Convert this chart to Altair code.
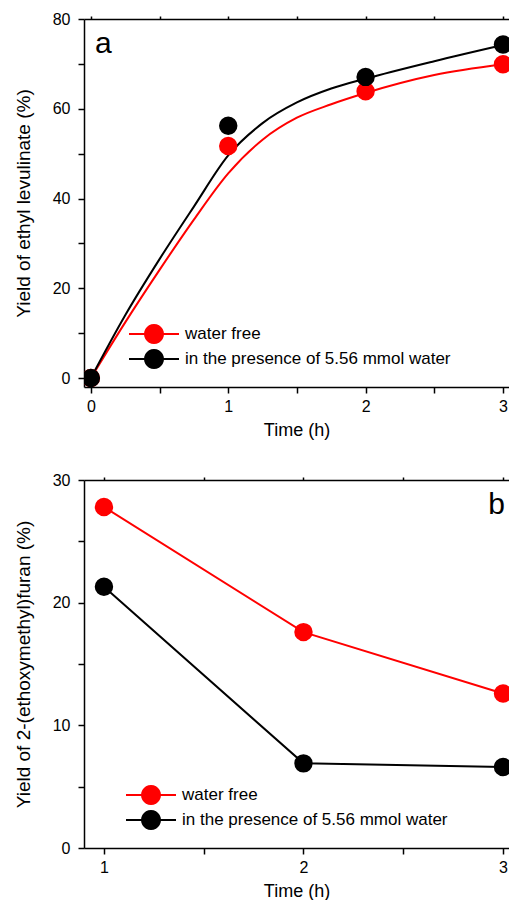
import math
import altair as alt
import pandas as pd

FONT = "Liberation Sans"
SERIES = ["water free", "in the presence of 5.56 mmol water"]
COLORS = ["#ff0000", "#000000"]

# ---- panel a: yield of ethyl levulinate (measured points) ----
a_time = [0, 1, 2, 3]
a_free = [0.0, 51.7, 63.9, 69.9]
a_water = [0.0, 56.2, 67.1, 74.3]

# ---- panel a: fitted curves ----
fit_time = [0.0, 0.25, 0.5, 0.75, 1.0, 1.25, 1.5, 1.75, 2.0, 2.5, 3.0]
fit_free = [0.0, 12.4, 24.1, 35.3, 45.6, 53.1, 58.0, 61.0, 63.5, 67.5, 69.9]
fit_water = [0.0, 14.0, 26.5, 38.2, 49.6, 56.8, 61.4, 64.5, 66.7, 70.6, 74.2]

# ---- panel b: yield of 2-(ethoxymethyl)furan ----
b_time = [1, 2, 3]
b_free = [27.8, 17.6, 12.6]
b_water = [21.3, 6.9, 6.6]

# ---- ticks ----
a_xticks = [0, 0.5, 1, 1.5, 2, 2.5, 3]
a_yticks = [0, 10, 20, 30, 40, 50, 60, 70, 80]
b_xticks = [1, 1.5, 2, 2.5, 3]
b_yticks = [0, 5, 10, 15, 20, 25, 30]


def long_frame(t, free, water):
    rows = []
    for x, v in zip(t, free):
        rows.append({"time": x, "value": v, "series": SERIES[0]})
    for x, v in zip(t, water):
        rows.append({"time": x, "value": v, "series": SERIES[1]})
    return pd.DataFrame(rows)


a_pts = long_frame(a_time, a_free, a_water)
a_fit = long_frame(fit_time, fit_free, fit_water)
b_pts = long_frame(b_time, b_free, b_water)

# legend glyph: a line segment with a dot in the middle (unit symbol path)
_poly = []
for k in range(24):
    ang = 2 * math.pi * k / 24
    _poly.append(f"{1.125 * math.cos(ang):.3f},{1.125 * math.sin(ang):.3f}")
SYMBOL = "M-3.125,0L3.125,0M" + "L".join(_poly) + "Z"


def make_legend(lx, ly):
    return alt.Legend(
        title=None, orient="none", legendX=lx, legendY=ly,
        symbolType=SYMBOL, symbolSize=256, symbolStrokeWidth=2,
        symbolOpacity=1, labelFont=FONT, labelFontSize=17,
        labelColor="black", labelLimit=600, labelOffset=22, rowPadding=-1,
    )


def panel(pts, lines, xdom, ydom, xticks, yticks, ymajor, ytitle,
          letter, letter_x, letter_align, leg, interp):
    xscale = alt.Scale(domain=xdom, nice=False, zero=False)
    yscale = alt.Scale(domain=ydom, nice=False, zero=False)
    common = dict(
        labelFontSize=16, labelFont=FONT, labelColor="black",
        titleFont=FONT, titleFontWeight="normal", titleColor="black",
        domainColor="black", domainWidth=1.5, tickColor="black", tickWidth=1.5,
        grid=False, labelOverlap=False,
    )
    x_axis = alt.Axis(
        values=xticks,
        labelExpr="datum.value % 1 == 0 ? format(datum.value, 'd') : ''",
        tickSize=6, title="Time (h)", titleFontSize=18, labelPadding=5,
        titlePadding=7, **common,
    )
    y_axis = alt.Axis(
        values=yticks,
        labelExpr=f"datum.value % {ymajor} == 0 ? format(datum.value, 'd') : ''",
        tickSize=6, title=ytitle, titleFontSize=19, labelPadding=8,
        titlePadding=19, **common,
    )
    cscale = alt.Scale(domain=SERIES, range=COLORS)
    line = alt.Chart(lines).mark_line(strokeWidth=2, interpolate=interp, clip=True).encode(
        x=alt.X("time:Q", scale=xscale, axis=x_axis),
        y=alt.Y("value:Q", scale=yscale, axis=y_axis),
        stroke=alt.Stroke("series:N", scale=cscale, legend=leg),
    )
    dots = alt.Chart(pts).mark_circle(size=270, opacity=1, clip=True).encode(
        x=alt.X("time:Q", axis=None),
        y=alt.Y("value:Q"),
        fill=alt.Fill("series:N", scale=cscale, legend=leg),
        stroke=alt.Stroke("series:N", scale=cscale, legend=leg),
    )
    top = alt.Chart(pts).mark_point(opacity=0).encode(
        x=alt.X("time:Q", axis=alt.Axis(orient="top", labels=False, title=None,
                                         values=xticks, tickSize=3,
                                         domainColor="black", domainWidth=1.5,
                                         tickColor="black", tickWidth=1.5,
                                         grid=False, minExtent=0, maxExtent=0)),
    )
    lab = alt.Chart(pd.DataFrame({"t": [letter]})).mark_text(
        font=FONT, fontSize=30, align=letter_align, baseline="alphabetic", color="black"
    ).encode(x=alt.value(letter_x), y=alt.value(34), text="t:N")
    return alt.layer(line, dots, top, lab).resolve_axis(x="independent").properties(
        width=425, height=368
    )


pa = panel(a_pts, a_fit, [-0.05, 3.044], [-2, 80], a_xticks, a_yticks, 20,
           "Yield of ethyl levulinate (%)", "a", 11, "left",
           make_legend(61, 306), "monotone")
pb = panel(b_pts, b_pts, [0.9, 3.03], [0, 30], b_xticks, b_yticks, 10,
           "Yield of 2-(ethoxymethyl)furan (%)", "b", 421, "right",
           make_legend(58, 306), "linear")

chart = alt.vconcat(pa, pb, spacing=33).resolve_scale(
    color="independent", fill="independent", stroke="independent"
).properties(
    padding={"left": 6, "top": 3, "right": 0, "bottom": 0}
).configure_view(stroke=None)

chart.save("out.html", embed_options={"renderer": "svg", "actions": False})
